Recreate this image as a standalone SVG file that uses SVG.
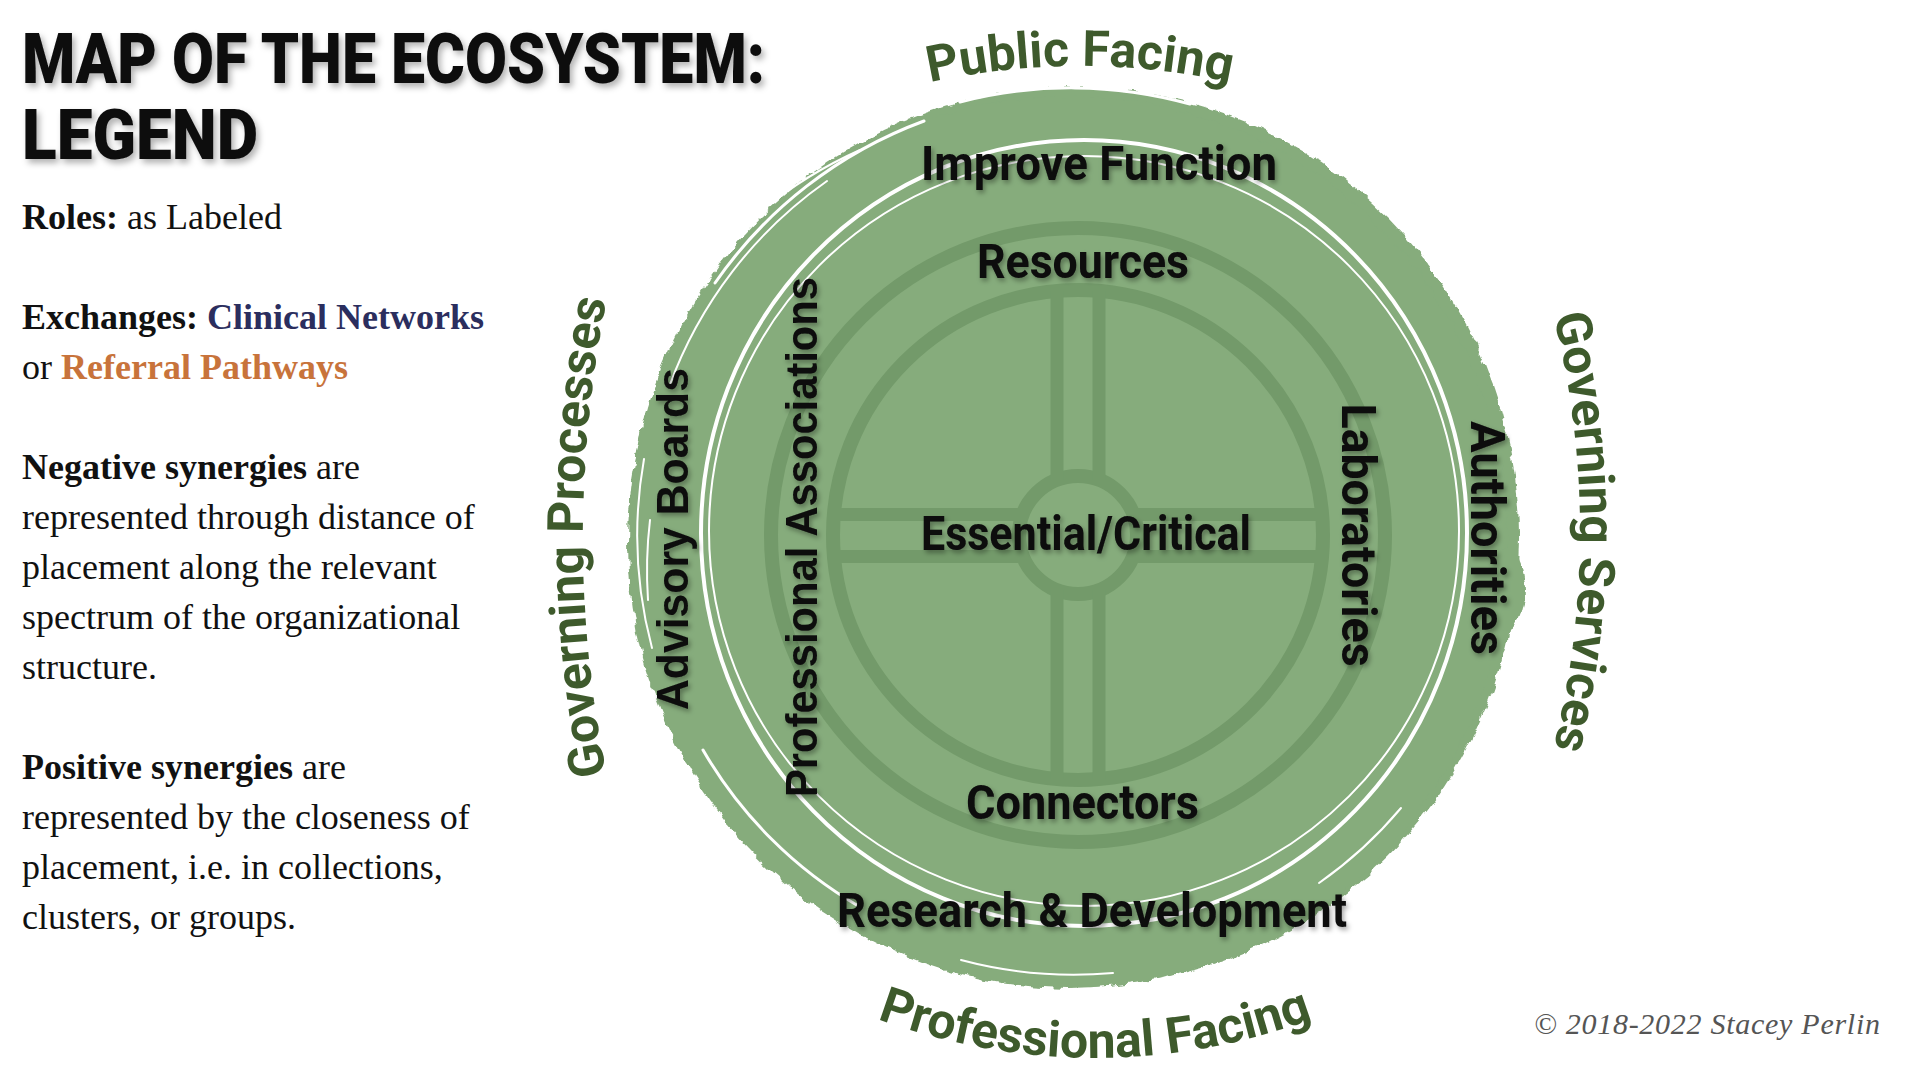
<svg xmlns="http://www.w3.org/2000/svg" width="1920" height="1080" viewBox="0 0 1920 1080">
<defs>
<style>
.legend{font-family:"Liberation Serif","Times New Roman",serif;font-size:36px;fill:#111;}
.b{font-weight:bold;}
.title{font-family:Roboto,"Liberation Sans",sans-serif;font-weight:900;font-size:70px;fill:#0b0b0b;}
.lbl{font-family:Roboto,"Liberation Sans",sans-serif;font-weight:700;font-size:48px;fill:#0a0a0a;}
.lbl2{font-family:"Liberation Sans",Arial,sans-serif;font-weight:700;font-size:45px;fill:#0a0a0a;}
.outer{font-family:Roboto,"Liberation Sans",sans-serif;font-weight:700;font-size:50px;fill:#3e5a2c;}
.ring{fill:none;stroke:#739a6a;stroke-width:14;}
.spoke{fill:none;stroke:#739a6a;stroke-width:13;}
.streak{fill:none;stroke:#fff;stroke-linecap:round;}
</style>
<filter id="shadow" x="-10%" y="-30%" width="120%" height="160%">
<feDropShadow dx="2" dy="3" stdDeviation="2.5" flood-color="#000" flood-opacity="0.35"/>
</filter>
<filter id="tshadow" x="-5%" y="-30%" width="110%" height="160%">
<feDropShadow dx="3" dy="4" stdDeviation="3" flood-color="#000" flood-opacity="0.3"/>
</filter>
<filter id="rough" x="-10%" y="-10%" width="120%" height="120%">
<feTurbulence type="fractalNoise" baseFrequency="0.07" numOctaves="3" seed="4" result="n"/>
<feDisplacementMap in="SourceGraphic" in2="n" scale="9" xChannelSelector="R" yChannelSelector="G"/>
</filter>
<path id="arcTop" d="M 780 133.5 A 700 700 0 0 1 1380 133.5"/>
<path id="arcBottom" d="M 775 970 A 627 627 0 0 0 1415 970"/>
<path id="arcLeft" d="M 621 837 A 1200 1200 0 0 1 621 237"/>
<path id="arcRight" d="M 1528 232 A 890 890 0 0 1 1528 832"/>
</defs>
<rect width="1920" height="1080" fill="#fff"/>

<g id="legend">
<g id="title" filter="url(#tshadow)">
<text class="title" x="22" y="83" textLength="743" lengthAdjust="spacingAndGlyphs">MAP OF THE ECOSYSTEM:</text>
<text class="title" x="22" y="159" textLength="236" lengthAdjust="spacingAndGlyphs">LEGEND</text>
</g>
<text class="legend" x="22" y="228.5"><tspan class="b">Roles:</tspan> as Labeled</text>
<text class="legend" x="22" y="328.5"><tspan class="b">Exchanges:</tspan> <tspan class="b" fill="#2b2e5e">Clinical Networks</tspan></text>
<text class="legend" x="22" y="378.5">or <tspan class="b" fill="#c8733b">Referral Pathways</tspan></text>
<text class="legend" x="22" y="478.5"><tspan class="b">Negative synergies</tspan> are</text>
<text class="legend" x="22" y="528.5">represented through distance of</text>
<text class="legend" x="22" y="578.5">placement along the relevant</text>
<text class="legend" x="22" y="628.5">spectrum of the organizational</text>
<text class="legend" x="22" y="678.5">structure.</text>
<text class="legend" x="22" y="778.5"><tspan class="b">Positive synergies</tspan> are</text>
<text class="legend" x="22" y="828.5">represented by the closeness of</text>
<text class="legend" x="22" y="878.5">placement, i.e. in collections,</text>
<text class="legend" x="22" y="928.5">clusters, or groups.</text>
</g>

<g id="blob">
<g filter="url(#rough)" fill="#86ac7c">
<ellipse cx="1074" cy="537" rx="445" ry="450"/>
<ellipse cx="1068" cy="542" rx="440" ry="446"/>
<ellipse cx="1504" cy="590" rx="20" ry="42"/>
</g>
<g class="streaks">
<path class="streak" stroke-width="2" d="M 669 387 A 432 432 0 0 1 827 181"/>
<path class="streak" stroke-width="3" d="M 715 283 A 440 440 0 0 1 924 121"/>
<path class="streak" stroke-width="2" d="M 652 648 A 438 438 0 0 1 644 459"/>
<path class="streak" stroke-width="3" d="M 703 750 A 430 430 0 0 0 860 907"/>
<path class="streak" stroke-width="2" d="M 961 960 A 440 440 0 0 0 1113 973"/>
<path class="streak" stroke-width="2" d="M 1401 808 A 425 425 0 0 1 1319 883"/>
<path class="streak" stroke-width="3" d="M 960 102 A 445 445 0 0 1 1190 104"/>
<path class="streak" stroke-width="2" d="M 648 600 A 430 430 0 0 1 650 520"/>
<path class="streak" stroke-width="2" d="M 760 212 A 440 440 0 0 1 860 150"/>
</g>
</g>

<g id="white-ring" fill="none" stroke="#fff">
<ellipse cx="1084" cy="533" rx="383" ry="393" stroke-width="4"/>
<circle cx="1084" cy="531" r="375" stroke-width="2"/>
</g>

<g id="wheel">
<circle class="ring" cx="1078" cy="535" r="307"/>
<circle class="ring" cx="1078" cy="535" r="245"/>
<circle class="ring" cx="1078" cy="535" r="59"/>
</g>

<g id="connectors">
<path class="spoke" d="M 834 514.5 H 1023 M 834 556.5 H 1023 M 1133 514.5 H 1322 M 1133 556.5 H 1322"/>
<path class="spoke" d="M 1057 291 V 480 M 1099 291 V 480 M 1057 590 V 779 M 1099 590 V 779"/>
</g>

<g id="node-improve-function" filter="url(#shadow)"><text class="lbl" x="921" y="180" textLength="356" lengthAdjust="spacingAndGlyphs">Improve Function</text></g>
<g id="node-resources" filter="url(#shadow)"><text class="lbl" x="977" y="278" textLength="212" lengthAdjust="spacingAndGlyphs">Resources</text></g>
<g id="node-essential" filter="url(#shadow)"><text class="lbl" x="921" y="550" textLength="330" lengthAdjust="spacingAndGlyphs">Essential/Critical</text></g>
<g id="node-connectors" filter="url(#shadow)"><text class="lbl" x="966" y="819" textLength="233" lengthAdjust="spacingAndGlyphs">Connectors</text></g>
<g id="node-research" filter="url(#shadow)"><text class="lbl" x="837" y="927" font-size="50" textLength="510" lengthAdjust="spacingAndGlyphs">Research &amp; Development</text></g>
<g id="node-advisory" filter="url(#shadow)"><text class="lbl2" transform="translate(688,539) rotate(-90)" text-anchor="middle" textLength="342" lengthAdjust="spacingAndGlyphs">Advisory Boards</text></g>
<g id="node-professional-assoc" filter="url(#shadow)"><text class="lbl2" transform="translate(817,537) rotate(-90)" text-anchor="middle" textLength="520" lengthAdjust="spacingAndGlyphs">Professional Associations</text></g>
<g id="node-laboratories" filter="url(#shadow)"><text class="lbl" transform="translate(1342,535) rotate(90)" text-anchor="middle" textLength="263" lengthAdjust="spacingAndGlyphs">Laboratories</text></g>
<g id="node-authorities" filter="url(#shadow)"><text class="lbl" transform="translate(1471,538) rotate(90)" text-anchor="middle" textLength="234" lengthAdjust="spacingAndGlyphs">Authorities</text></g>

<g id="node-public-facing"><text class="outer"><textPath href="#arcTop" startOffset="50%" text-anchor="middle">Public Facing</textPath></text></g>
<g id="node-professional-facing"><text class="outer"><textPath href="#arcBottom" startOffset="50%" text-anchor="middle">Professional Facing</textPath></text></g>
<g id="node-governing-processes"><text class="outer"><textPath href="#arcLeft" startOffset="50%" text-anchor="middle">Governing Processes</textPath></text></g>
<g id="node-governing-services"><text class="outer"><textPath href="#arcRight" startOffset="50%" text-anchor="middle">Governing Services</textPath></text></g>

<text id="copyright" x="1534" y="1034" font-family="'Liberation Serif','Times New Roman',serif" font-style="italic" font-size="30" fill="#555" textLength="346" lengthAdjust="spacing">© 2018-2022 Stacey Perlin</text>
</svg>
